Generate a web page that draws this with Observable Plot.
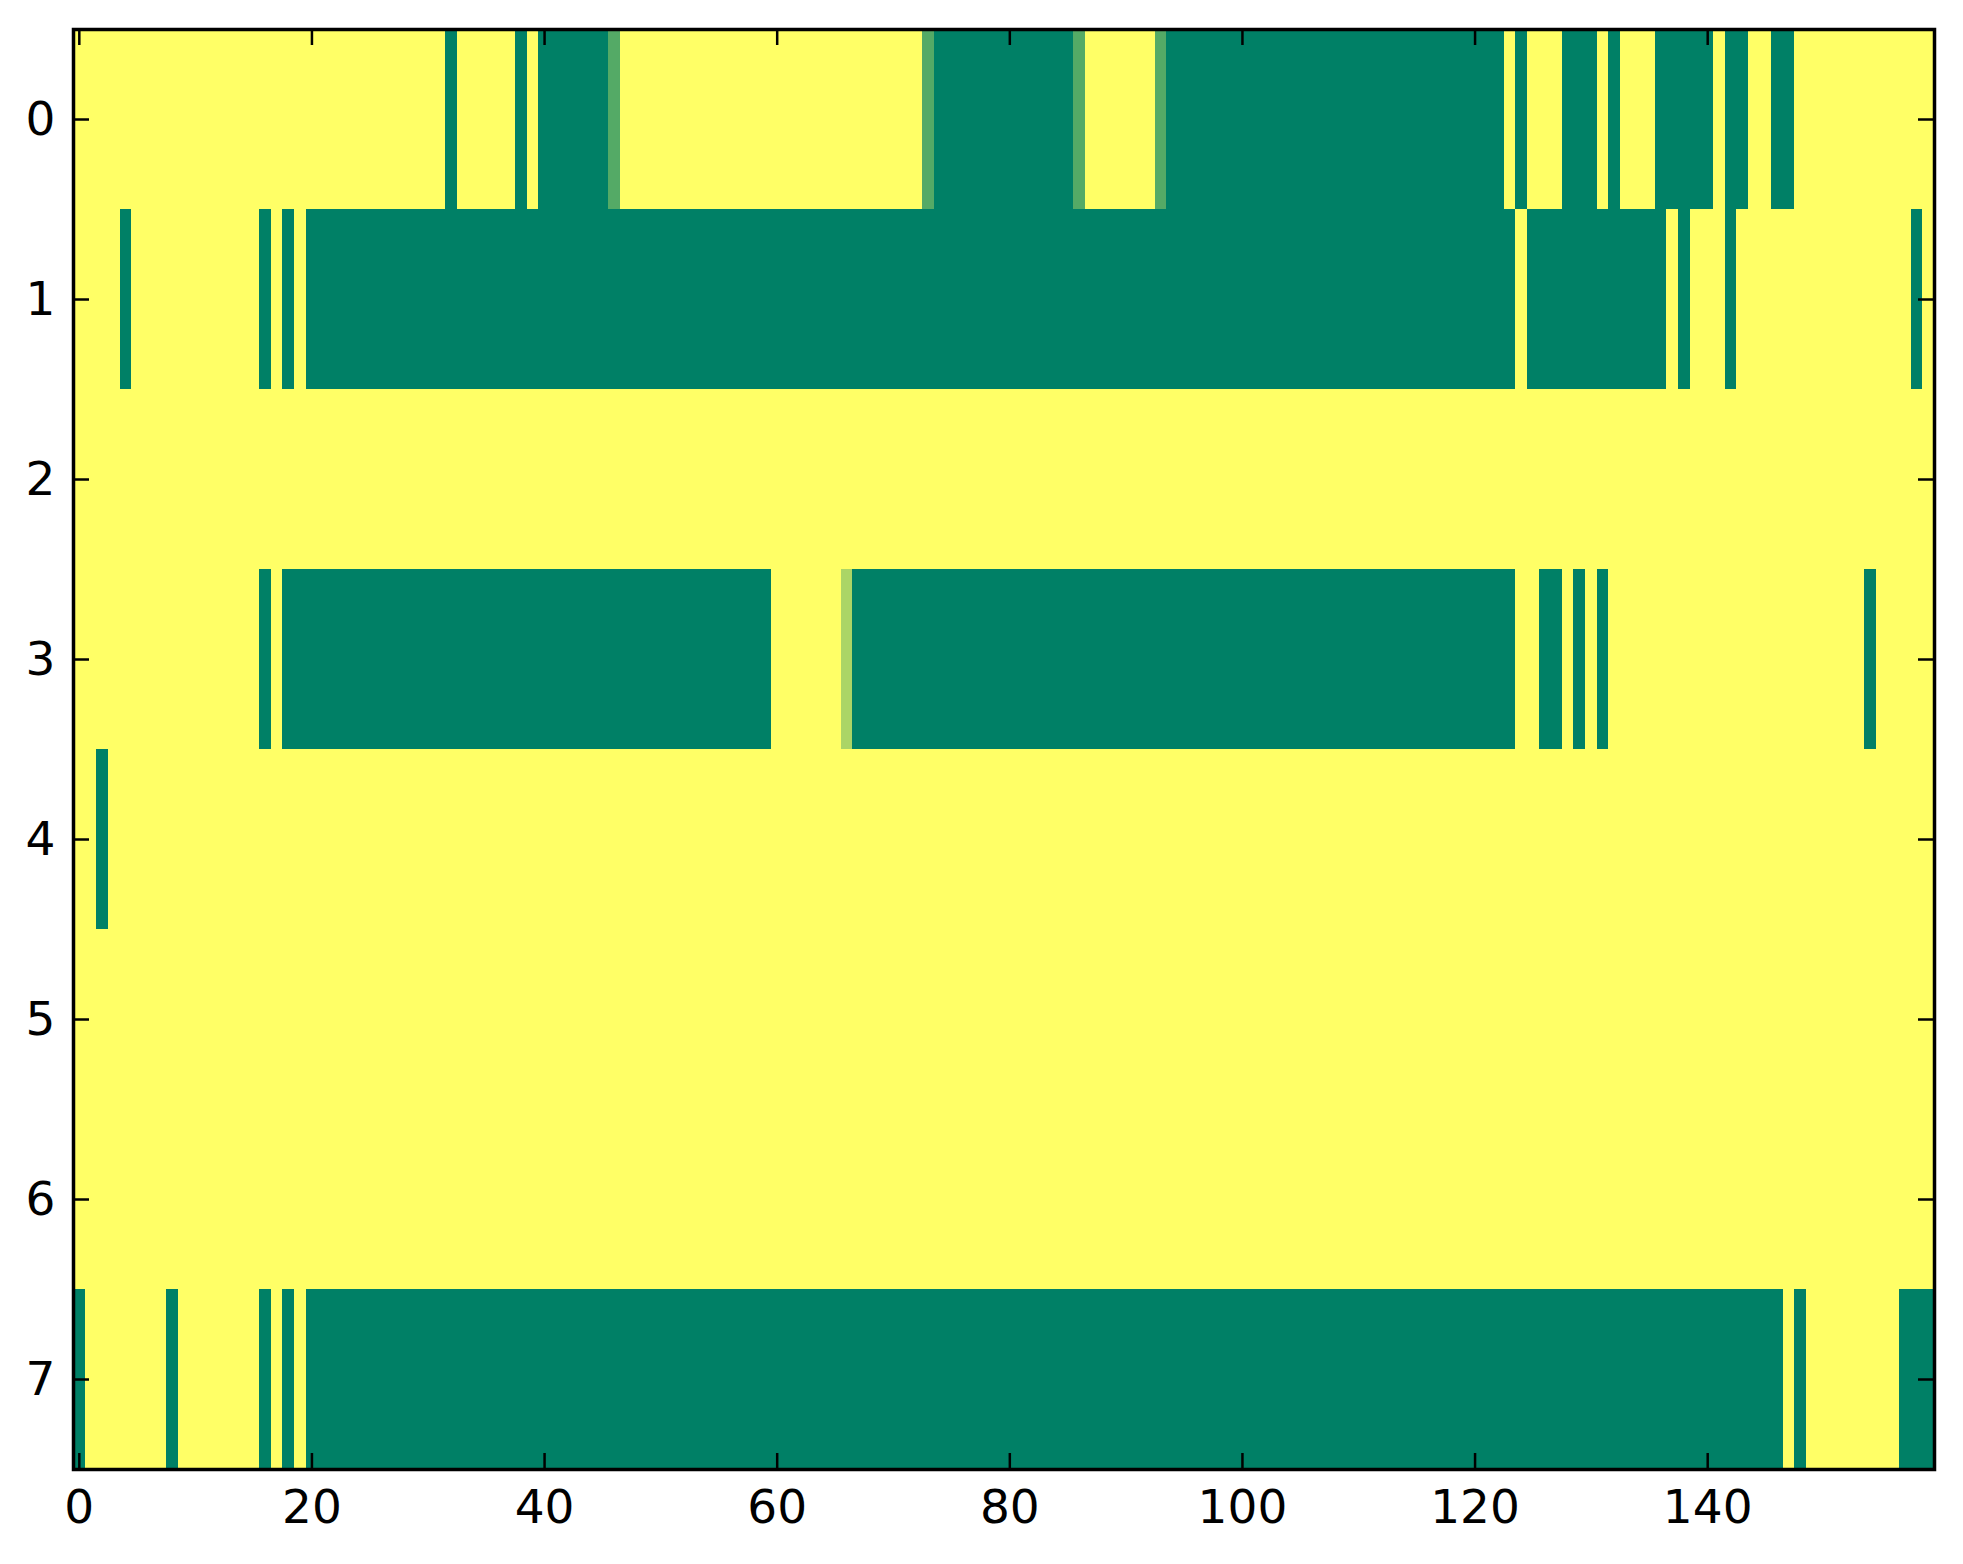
<!DOCTYPE html>
<html>
<head>
<meta charset="utf-8">
<script src="https://cdn.jsdelivr.net/npm/d3@7"></script>
<script src="https://cdn.jsdelivr.net/npm/@observablehq/plot@0.6"></script>
<style>
  body { margin: 0; background: #ffffff; }
  #chart { width: 1963px; height: 1564px; }
</style>
</head>
<body>
<div id="chart"></div>
<script>
// Cell values (0 = dark green, 1 = yellow, "summer" colormap), 8 rows x 160 columns
const row0 = [
  1,1,1,1,1,1,1,1,1,1, 1,1,1,1,1,1,1,1,1,1,
  1,1,1,1,1,1,1,1,1,1, 1,1,0,1,1,1,1,1,0,1,
  0,0,0,0,0,0,0.33,1,1,1, 1,1,1,1,1,1,1,1,1,1,
  1,1,1,1,1,1,1,1,1,1, 1,1,1,0.33,0,0,0,0,0,0,
  0,0,0,0,0,0,0.33,1,1,1, 1,1,1,0.33,0,0,0,0,0,0,
  0,0,0,0,0,0,0,0,0,0, 0,0,0,0,0,0,0,0,0,0,
  0,0,0,1,0,1,1,1,0,0, 0,1,0,1,1,1,0,0,0,0,
  0,1,0,0,1,1,0,0,1,1, 1,1,1,1,1,1,1,1,1,1
];
const row1 = [
  1,1,1,1,0,1,1,1,1,1, 1,1,1,1,1,1,0,1,0,1,
  0,0,0,0,0,0,0,0,0,0, 0,0,0,0,0,0,0,0,0,0,
  0,0,0,0,0,0,0,0,0,0, 0,0,0,0,0,0,0,0,0,0,
  0,0,0,0,0,0,0,0,0,0, 0,0,0,0,0,0,0,0,0,0,
  0,0,0,0,0,0,0,0,0,0, 0,0,0,0,0,0,0,0,0,0,
  0,0,0,0,0,0,0,0,0,0, 0,0,0,0,0,0,0,0,0,0,
  0,0,0,0,1,0,0,0,0,0, 0,0,0,0,0,0,0,1,0,1,
  1,1,0,1,1,1,1,1,1,1, 1,1,1,1,1,1,1,1,0,1
];
const row2 = [
  1,1,1,1,1,1,1,1,1,1, 1,1,1,1,1,1,1,1,1,1,
  1,1,1,1,1,1,1,1,1,1, 1,1,1,1,1,1,1,1,1,1,
  1,1,1,1,1,1,1,1,1,1, 1,1,1,1,1,1,1,1,1,1,
  1,1,1,1,1,1,1,1,1,1, 1,1,1,1,1,1,1,1,1,1,
  1,1,1,1,1,1,1,1,1,1, 1,1,1,1,1,1,1,1,1,1,
  1,1,1,1,1,1,1,1,1,1, 1,1,1,1,1,1,1,1,1,1,
  1,1,1,1,1,1,1,1,1,1, 1,1,1,1,1,1,1,1,1,1,
  1,1,1,1,1,1,1,1,1,1, 1,1,1,1,1,1,1,1,1,1
];
const row3 = [
  1,1,1,1,1,1,1,1,1,1, 1,1,1,1,1,1,0,1,0,0,
  0,0,0,0,0,0,0,0,0,0, 0,0,0,0,0,0,0,0,0,0,
  0,0,0,0,0,0,0,0,0,0, 0,0,0,0,0,0,0,0,0,0,
  1,1,1,1,1,1,0.67,0,0,0, 0,0,0,0,0,0,0,0,0,0,
  0,0,0,0,0,0,0,0,0,0, 0,0,0,0,0,0,0,0,0,0,
  0,0,0,0,0,0,0,0,0,0, 0,0,0,0,0,0,0,0,0,0,
  0,0,0,0,1,1,0,0,1,0, 1,0,1,1,1,1,1,1,1,1,
  1,1,1,1,1,1,1,1,1,1, 1,1,1,1,0,1,1,1,1,1
];
const row4 = [
  1,1,0,1,1,1,1,1,1,1, 1,1,1,1,1,1,1,1,1,1,
  1,1,1,1,1,1,1,1,1,1, 1,1,1,1,1,1,1,1,1,1,
  1,1,1,1,1,1,1,1,1,1, 1,1,1,1,1,1,1,1,1,1,
  1,1,1,1,1,1,1,1,1,1, 1,1,1,1,1,1,1,1,1,1,
  1,1,1,1,1,1,1,1,1,1, 1,1,1,1,1,1,1,1,1,1,
  1,1,1,1,1,1,1,1,1,1, 1,1,1,1,1,1,1,1,1,1,
  1,1,1,1,1,1,1,1,1,1, 1,1,1,1,1,1,1,1,1,1,
  1,1,1,1,1,1,1,1,1,1, 1,1,1,1,1,1,1,1,1,1
];
const row5 = [
  1,1,1,1,1,1,1,1,1,1, 1,1,1,1,1,1,1,1,1,1,
  1,1,1,1,1,1,1,1,1,1, 1,1,1,1,1,1,1,1,1,1,
  1,1,1,1,1,1,1,1,1,1, 1,1,1,1,1,1,1,1,1,1,
  1,1,1,1,1,1,1,1,1,1, 1,1,1,1,1,1,1,1,1,1,
  1,1,1,1,1,1,1,1,1,1, 1,1,1,1,1,1,1,1,1,1,
  1,1,1,1,1,1,1,1,1,1, 1,1,1,1,1,1,1,1,1,1,
  1,1,1,1,1,1,1,1,1,1, 1,1,1,1,1,1,1,1,1,1,
  1,1,1,1,1,1,1,1,1,1, 1,1,1,1,1,1,1,1,1,1
];
const row6 = [
  1,1,1,1,1,1,1,1,1,1, 1,1,1,1,1,1,1,1,1,1,
  1,1,1,1,1,1,1,1,1,1, 1,1,1,1,1,1,1,1,1,1,
  1,1,1,1,1,1,1,1,1,1, 1,1,1,1,1,1,1,1,1,1,
  1,1,1,1,1,1,1,1,1,1, 1,1,1,1,1,1,1,1,1,1,
  1,1,1,1,1,1,1,1,1,1, 1,1,1,1,1,1,1,1,1,1,
  1,1,1,1,1,1,1,1,1,1, 1,1,1,1,1,1,1,1,1,1,
  1,1,1,1,1,1,1,1,1,1, 1,1,1,1,1,1,1,1,1,1,
  1,1,1,1,1,1,1,1,1,1, 1,1,1,1,1,1,1,1,1,1
];
const row7 = [
  0,1,1,1,1,1,1,1,0,1, 1,1,1,1,1,1,0,1,0,1,
  0,0,0,0,0,0,0,0,0,0, 0,0,0,0,0,0,0,0,0,0,
  0,0,0,0,0,0,0,0,0,0, 0,0,0,0,0,0,0,0,0,0,
  0,0,0,0,0,0,0,0,0,0, 0,0,0,0,0,0,0,0,0,0,
  0,0,0,0,0,0,0,0,0,0, 0,0,0,0,0,0,0,0,0,0,
  0,0,0,0,0,0,0,0,0,0, 0,0,0,0,0,0,0,0,0,0,
  0,0,0,0,0,0,0,0,0,0, 0,0,0,0,0,0,0,0,0,0,
  0,0,0,0,0,0,0,1,0,1, 1,1,1,1,1,1,1,0,0,0
];
const rows = [row0, row1, row2, row3, row4, row5, row6, row7];

const xTicks = [0, 20, 40, 60, 80, 100, 120, 140];
const yTicks = [0, 1, 2, 3, 4, 5, 6, 7];

// Build the cell table from the arrays
const cells = [];
rows.forEach((r, ri) => r.forEach((v, ci) => cells.push({row: ri, col: ci, value: v})));

const W = 1963, H = 1564;
const mL = 73, mR = 29, mT = 29, mB = 95;
const frameW = W - mL - mR, frameH = H - mT - mB;
const tickLen = 16;

const chart = Plot.plot({
  width: W,
  height: H,
  marginLeft: mL,
  marginRight: mR,
  marginTop: mT,
  marginBottom: mB,
  style: {fontFamily: "DejaVu Sans", fontSize: "47px", color: "black", background: "white"},
  x: {domain: [-0.5, 159.5]},
  y: {domain: [-0.5, 7.5], reverse: true},
  color: {type: "linear", domain: [0, 1], range: ["#008066", "#ffff66"], interpolate: "rgb"},
  marks: [
    Plot.rect(cells, {
      x1: d => d.col - 0.5, x2: d => d.col + 0.5,
      y1: d => d.row - 0.5, y2: d => d.row + 0.5,
      fill: "value", shapeRendering: "crispEdges"
    }),
    // inward ticks on all four sides (matplotlib classic)
    Plot.ruleX(xTicks, {x: d => d, insetTop: frameH - tickLen, stroke: "black", strokeWidth: 2.5}),
    Plot.ruleX(xTicks, {x: d => d, insetBottom: frameH - tickLen, stroke: "black", strokeWidth: 2.5}),
    Plot.ruleY(yTicks, {y: d => d, insetRight: frameW - tickLen, stroke: "black", strokeWidth: 2.5}),
    Plot.ruleY(yTicks, {y: d => d, insetLeft: frameW - tickLen, stroke: "black", strokeWidth: 2.5}),
    Plot.axisX({ticks: xTicks, tickSize: 0, tickPadding: 20, fontSize: 47, tickFormat: d => String(d), label: null}),
    Plot.axisY({ticks: yTicks, tickSize: 0, tickPadding: 18, fontSize: 47, tickFormat: d => String(d), label: null}),
    Plot.frame({stroke: "black", strokeWidth: 3.5})
  ]
});
document.getElementById("chart").appendChild(chart);
</script>
</body>
</html>
